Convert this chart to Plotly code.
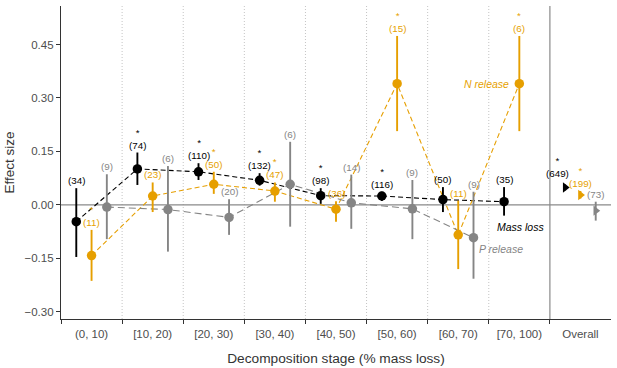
import plotly.graph_objects as go

categories = ["(0, 10)", "[10, 20)", "[20, 30)", "[30, 40)", "[40, 50)",
              "[50, 60)", "[60, 70)", "[70, 100)", "Overall"]

mass_est = [-0.047, 0.101, 0.093, 0.069, 0.026, 0.025, 0.015, 0.009, 0.049]
mass_lo = [-0.146, 0.056, 0.070, 0.054, 0.003, 0.011, -0.020, -0.030, 0.041]
mass_hi = [0.047, 0.147, 0.117, 0.089, 0.047, 0.037, 0.050, 0.050, 0.057]
mass_n = [34, 74, 110, 132, 98, 116, 50, 35, 649]
mass_sig = [False, True, True, True, True, True, False, False, True]

n_est = [-0.142, 0.025, 0.058, 0.039, -0.012, 0.340, -0.084, 0.340, 0.028]
n_lo = [-0.213, -0.020, 0.031, 0.009, -0.047, 0.207, -0.180, 0.207, 0.018]
n_hi = [-0.070, 0.063, 0.093, 0.063, 0.010, 0.474, 0.012, 0.474, 0.039]
n_n = [11, 23, 50, 47, 36, 15, 11, 6, 199]
n_sig = [True, False, True, True, False, True, False, True, True]

p_est = [-0.006, -0.013, -0.035, 0.058, 0.006, -0.011, -0.092, None, -0.016]
p_lo = [-0.096, -0.131, -0.084, -0.061, -0.067, -0.096, -0.207, None, -0.044]
p_hi = [0.086, 0.109, 0.016, 0.177, 0.085, 0.070, 0.037, None, 0.009]
p_n = [9, 6, 20, 6, 14, 9, 9, None, 73]
p_sig = [False, False, False, False, False, False, False, False, False]

BLACK = "#000000"
ORANGE = "#E69F00"
GRAY = "#858585"
FONT = "Liberation Sans, Arial, sans-serif"

series = [
    dict(name="Mass loss", est=mass_est, lo=mass_lo, hi=mass_hi, n=mass_n, sig=mass_sig,
         color=BLACK, dash="5px,3px", off=-0.25),
    dict(name="N release", est=n_est, lo=n_lo, hi=n_hi, n=n_n, sig=n_sig,
         color=ORANGE, dash="5px,3px", off=0.0),
    dict(name="P release", est=p_est, lo=p_lo, hi=p_hi, n=p_n, sig=p_sig,
         color=GRAY, dash="7px,4px", off=0.25),
]

ncat = len(categories)
fig = go.Figure()
annotations = []

for s in series:
    idx = [i for i in range(ncat - 1) if s["est"][i] is not None]
    fig.add_trace(go.Scatter(x=[i + s["off"] for i in idx], y=[s["est"][i] for i in idx],
                             mode="lines",
                             line=dict(color=s["color"], width=1.1, dash=s["dash"]),
                             showlegend=False, hoverinfo="skip"))
for s in series:
    idx = [i for i in range(ncat - 1) if s["est"][i] is not None]
    fig.add_trace(go.Scatter(
        x=[i + s["off"] for i in idx], y=[s["est"][i] for i in idx], mode="markers",
        marker=dict(color=s["color"], size=9.5, symbol="circle"),
        error_y=dict(type="data", symmetric=False,
                     array=[s["hi"][i] - s["est"][i] for i in idx],
                     arrayminus=[s["est"][i] - s["lo"][i] for i in idx],
                     color=s["color"], thickness=1.9, width=0),
        showlegend=False, name=s["name"]))
    j = ncat - 1
    fig.add_trace(go.Scatter(
        x=[j + s["off"]], y=[s["est"][j]], mode="markers",
        marker=dict(color=s["color"], size=9, symbol="triangle-right"),
        error_y=dict(type="data", symmetric=False,
                     array=[s["hi"][j] - s["est"][j]],
                     arrayminus=[s["est"][j] - s["lo"][j]],
                     color=s["color"], thickness=1.9, width=0),
        showlegend=False, name=s["name"] + " overall"))
    for i in range(ncat):
        if s["est"][i] is None:
            continue
        xsh = 0
        ysh = 0
        if i == ncat - 1 and s["name"] == "Mass loss":
            xsh, ysh = -8, 4
        label = "(%d)" % s["n"][i]
        if s["sig"][i]:
            label = "*<br>" + label
        annotations.append(dict(x=i + s["off"], y=s["hi"][i], xref="x", yref="y",
                                text=label, showarrow=False,
                                yanchor="bottom", xanchor="center", xshift=xsh, yshift=ysh,
                                font=dict(size=9.8, color=s["color"], family=FONT)))

annotations.append(dict(x=7, y=n_est[7], xref="x", yref="y", text="<i>N release</i>",
                        showarrow=False, xanchor="right", xshift=-8,
                        font=dict(size=10.5, color=ORANGE, family=FONT)))
annotations.append(dict(x=7.02, y=-0.061, xref="x", yref="y", text="<i>Mass loss</i>",
                        showarrow=False, xanchor="center",
                        font=dict(size=10.5, color=BLACK, family=FONT)))
annotations.append(dict(x=6.70, y=-0.123, xref="x", yref="y", text="<i>P release</i>",
                        showarrow=False, xanchor="center",
                        font=dict(size=10.5, color=GRAY, family=FONT)))

fig.add_trace(go.Scatter(x=[0], y=[0], xaxis="x2", mode="markers",
                         marker=dict(opacity=0), showlegend=False, hoverinfo="skip"))

shapes = []
for k in range(ncat - 2):
    shapes.append(dict(type="line", xref="x", yref="paper", x0=k + 0.5, x1=k + 0.5,
                       y0=0, y1=1, layer="below",
                       line=dict(color="#c4c4c4", width=1, dash="1px,2px")))
shapes.append(dict(type="line", xref="x", yref="paper", x0=ncat - 1.5, x1=ncat - 1.5,
                   y0=0, y1=1, layer="below", line=dict(color="#8a8a8a", width=1.2)))
shapes.append(dict(type="line", xref="paper", yref="y", x0=0, x1=1, y0=0, y1=0,
                   layer="below", line=dict(color="#8a8a8a", width=1.2)))

fig.update_layout(
    width=617, height=368,
    margin=dict(l=61, r=6, t=6, b=49, autoexpand=False),
    paper_bgcolor="white", plot_bgcolor="white",
    font=dict(family=FONT, color="#333333"),
    showlegend=False,
    xaxis=dict(range=[-0.5, ncat - 0.5], tickvals=[k - 0.5 for k in range(ncat)],
               ticktext=[""] * ncat, ticks="outside", ticklen=4, tickwidth=1,
               tickcolor="#333333", showline=True, linecolor="#333333", linewidth=1.2,
               showgrid=False, zeroline=False, automargin=False),
    xaxis2=dict(overlaying="x", anchor="y", side="bottom", range=[-0.5, ncat - 0.5],
                tickvals=list(range(ncat)), ticktext=categories,
                ticks="outside", ticklen=4, tickcolor="rgba(0,0,0,0)",
                tickfont=dict(size=11.5, color="#4d4d4d", family=FONT),
                showline=False, showgrid=False, zeroline=False, automargin=False,
                title=dict(text="Decomposition stage (% mass loss)",
                           font=dict(size=13.7, color="#333333", family=FONT), standoff=14)),
    yaxis=dict(range=[-0.32, 0.558], tickvals=[-0.30, -0.15, 0.0, 0.15, 0.30, 0.45],
               tickformat=".2f", ticks="outside", ticklen=4, tickwidth=1,
               tickcolor="#333333", tickfont=dict(size=11.5, color="#4d4d4d", family=FONT),
               showline=True, linecolor="#333333", linewidth=1.2,
               showgrid=False, zeroline=False, automargin=False,
               title=dict(text="Effect size", font=dict(size=13.5, color="#333333", family=FONT),
                          standoff=6)),
    annotations=annotations,
    shapes=shapes,
)

fig.write_html("out.html", config={"displayModeBar": False},
               post_script="document.body.style.margin='0';")
